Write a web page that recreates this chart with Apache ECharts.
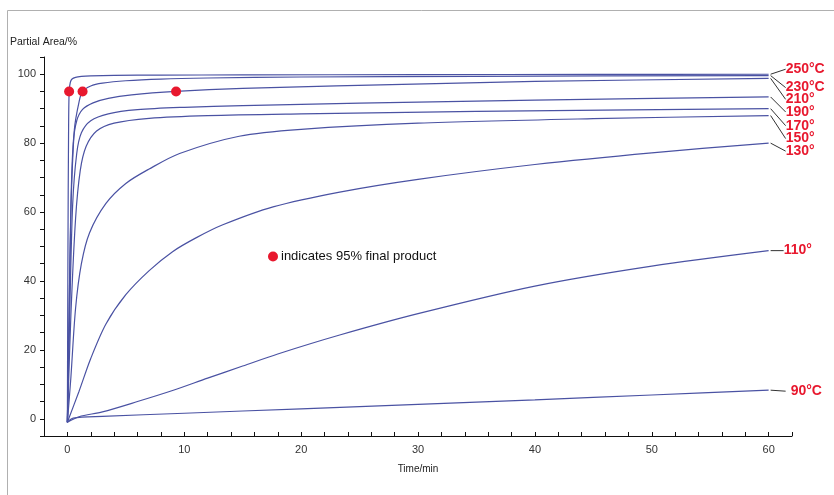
<!DOCTYPE html>
<html><head><meta charset="utf-8">
<script src="https://cdn.jsdelivr.net/npm/echarts@6/dist/echarts.min.js"></script>
<style>html,body{margin:0;padding:0;background:#fff}#c{width:834px;height:495px}</style>
</head><body><div id="c"></div>
<script>
// ---- data ----
const curveNames = ['250°C','230°C','210°','190°','170°','150°','130°','110°','90°C'];
const t250 = [0, 0.05, 0.1, 0.15, 0.25, 0.4, 0.7, 1.2, 2, 4, 8, 15, 30, 45, 60];
const v250 = [-1, 50, 82, 95, 97.6, 98.6, 99.1, 99.35, 99.5, 99.65, 99.75, 99.8, 99.9, 99.95, 100];
const t230 = [0, 0.1, 0.3, 0.6, 1.0, 1.3, 2, 3, 5, 8, 12, 20, 35, 60];
const v230 = [-1, 20, 60, 84, 92, 95, 96.6, 97.4, 98.1, 98.6, 98.9, 99.2, 99.4, 99.6];
const t210 = [0, 0.15, 0.3, 0.5, 0.8, 1.3, 2.2, 3.5, 5.5, 9.3, 15, 23, 40, 60];
const v210 = [-1, 30, 62, 80, 86.5, 89.8, 91.7, 93, 94, 95, 95.9, 96.6, 97.9, 98.8];
const t190 = [0, 0.2, 0.45, 0.8, 1.2, 2, 3.5, 6, 10, 15, 25, 40, 60];
const v190 = [-1, 30, 62, 77, 83, 86.5, 88.5, 89.7, 90.4, 90.9, 91.6, 92.5, 93.4];
const t170 = [0, 0.3, 0.7, 1.1, 1.6, 2.5, 4, 7, 12, 20, 35, 60];
const v170 = [-1, 30, 58, 72, 79, 83.5, 85.8, 87.2, 88, 88.5, 89.2, 90];
const t150 = [0, 0.3, 0.7, 1.2, 1.9, 3.3, 5, 7, 9.6, 14.7, 20, 30, 45, 60];
const v150 = [-1, 12, 32, 45, 54, 62.5, 68.3, 72.5, 77, 82, 84, 85.8, 87.1, 88];
const t130 = [0, 1, 2, 3.3, 5, 7, 9, 11, 13.3, 17.6, 23.3, 30, 40, 50, 60];
const v130 = [-1, 8, 17.5, 27.5, 36, 43, 48.5, 52.5, 56.3, 61.5, 65.8, 69.5, 73.8, 77.2, 80];
const t110 = [0, 1, 3, 6, 9, 12, 15, 18, 23.3, 30, 40, 50, 60];
const v110 = [-1, 0.6, 2, 5, 8.2, 11.8, 15.3, 18.8, 24.3, 30.5, 38.5, 44.3, 48.8];
const t90 = [0, 0.5, 3, 10, 20, 30, 40, 50, 60];
const v90 = [-1, 0.2, 0.7, 1.6, 2.9, 4.2, 5.5, 6.9, 8.3];
const dotT = [0.15, 1.3, 9.3];
const dotV = [95, 95, 95];
const dotLabel = 'indicates 95% final product';
const xTickLabels = [0, 10, 20, 30, 40, 50, 60];
const yTickLabels = [0, 20, 40, 60, 80, 100];

// ---- layout ----
const allT = [t250, t230, t210, t190, t170, t150, t130, t110, t90];
const allV = [v250, v230, v210, v190, v170, v150, v130, v110, v90];
const labelDy = [-5, 12, 21, 15, 17, 23, 8, 0, 1];   // label offset from curve end (px)
const labelDx = [17, 17, 17, 17, 17, 17, 17, 15, 22];
const leaderLen = [15, 15, 15, 15, 15, 15, 15, 13, 15];
const lineColor = '#4a52a3';
const red = '#e8182e';
const font = '"Liberation Sans", Arial, sans-serif';

const zip = (a, b) => a.map((x, i) => [x, b[i]]);
const series = curveNames.map((n, i) => ({
  name: n, type: 'line', data: zip(allT[i], allV[i]),
  showSymbol: false, smooth: 0.3,
  lineStyle: { color: lineColor, width: 1.2 }, silent: true, z: 2
}));
series.push({
  name: dotLabel, type: 'scatter', data: zip(dotT, dotV),
  symbol: 'circle', symbolSize: 10, itemStyle: { color: red, opacity: 1 }, z: 5
});

const chart = echarts.init(document.getElementById('c'), null, { renderer: 'canvas' });
chart.setOption({
  animation: false,
  backgroundColor: '#fff',
  grid: { left: 44, right: 42, top: 57, bottom: 59 },
  legend: {
    data: [{ name: dotLabel, icon: 'circle', itemStyle: { color: red, opacity: 1 } }],
    left: 263, top: 245, itemWidth: 10, itemHeight: 10, itemGap: 4,
    textStyle: { fontSize: 13, color: '#111', fontFamily: font, padding: [0, 0, 0, -2] },
    selectedMode: false
  },
  xAxis: {
    type: 'value', min: -2, max: 62, interval: 2,
    name: 'Time/min', nameLocation: 'middle', nameGap: 28,
    nameTextStyle: { fontSize: 10, color: '#222', fontFamily: font },
    axisLine: { onZero: false, lineStyle: { color: '#111', width: 1 } },
    axisTick: { inside: true, length: 4, lineStyle: { color: '#111' } },
    axisLabel: {
      fontSize: 11, color: '#333', fontFamily: font, margin: 8,
      formatter: v => xTickLabels.indexOf(v) >= 0 ? String(v) : ''
    },
    splitLine: { show: false }
  },
  yAxis: {
    type: 'value', min: -5, max: 105, interval: 5,
    axisLine: { onZero: false, lineStyle: { color: '#111', width: 1 } },
    axisTick: { length: 4, lineStyle: { color: '#111' } },
    axisLabel: {
      fontSize: 11, color: '#333', fontFamily: font, margin: 8,
      formatter: v => yTickLabels.indexOf(v) >= 0 ? String(v) : ''
    },
    splitLine: { show: false }
  },
  series: series
});

// annotations: leader lines and temperature labels
const g = [
  { type: 'rect', shape: { x: 7.5, y: 10.5, width: 900, height: 600 },
    style: { fill: 'none', stroke: '#b0b0b0', lineWidth: 1 }, silent: true },
  { type: 'text', left: 10, top: 37,
    style: { text: 'Partial Area/%', fill: '#222', font: '10.5px ' + font } }
];
curveNames.forEach((n, i) => {
  const tt = allT[i], vv = allV[i];
  const p = chart.convertToPixel({ gridIndex: 0 }, [tt[tt.length - 1], vv[vv.length - 1]]);
  const x0 = p[0] + 2, y0 = p[1];
  const x1 = x0 + leaderLen[i], y1 = y0 + labelDy[i];
  g.push({ type: 'line', shape: { x1: x0, y1: y0, x2: x1, y2: y1 },
    style: { stroke: '#333', lineWidth: 1 }, silent: true });
  g.push({ type: 'text', x: p[0] + labelDx[i], y: y1,
    style: { text: n, fill: red, font: 'bold 14px ' + font, textVerticalAlign: 'middle', verticalAlign: 'middle' },
    silent: true });
});
chart.setOption({ graphic: g });
</script></body></html>
